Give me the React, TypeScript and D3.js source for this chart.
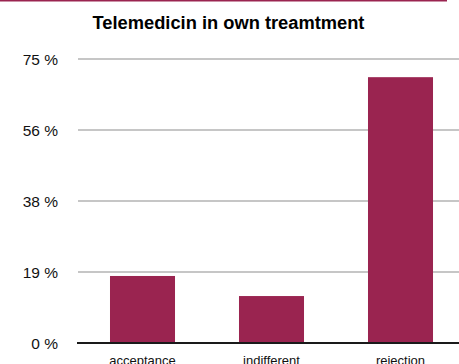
import React from "react";
import * as d3 from "d3";

const categories = ["acceptance", "indifferent", "rejection"];
const values = [17.7, 12.4, 70.2];
const yTicks = [0, 18.75, 37.5, 56.25, 75];
const yTickLabels = ["0 %", "19 %", "38 %", "56 %", "75 %"];
const title = "Telemedicin in own treamtment";

const W = 459;
const H = 364;
const color = "#9a2450";

export default function App() {
  const x = d3.scaleBand<string>().domain(categories).range([78, 465]).paddingInner(0.496).paddingOuter(0.248);
  const y = d3.scaleLinear().domain([0, 75]).range([343, 59]);
  const font = "'Liberation Sans', Arial, Helvetica, sans-serif";
  return (
    <svg width={W} height={H} style={{ position: "absolute", left: 0, top: 0 }} fontFamily={font}>
      <rect x={0} y={0} width={W} height={H} fill="#fff" />
      <line x1={0} x2={447} y1={0.75} y2={0.75} stroke={color} strokeWidth={1.5} />
      <text x={228.5} y={29} textAnchor="middle" fontWeight="bold" fontSize={18.3} fill="#000">{title}</text>
      {yTicks.map((t, i) => (
        <g key={i}>
          {i > 0 && <line x1={78} x2={W} y1={y(t)} y2={y(t)} stroke="#b3b3b3" strokeWidth={1.5} />}
          <text x={58} y={y(t)} dy="0.36em" textAnchor="end" fontSize={15.5} fill="#111">{yTickLabels[i]}</text>
        </g>
      ))}
      {categories.map((c, i) => (
        <rect key={c} x={x(c)} y={y(values[i])} width={x.bandwidth()} height={y(0) - y(values[i])} fill={color} />
      ))}
      <line x1={77} x2={W} y1={343} y2={343} stroke="#1a1a1a" strokeWidth={2} />
      {categories.map((c) => (
        <text key={c} x={(x(c) as number) + x.bandwidth() / 2} y={365} textAnchor="middle" fontSize={13} fill="#111">{c}</text>
      ))}
    </svg>
  );
}
